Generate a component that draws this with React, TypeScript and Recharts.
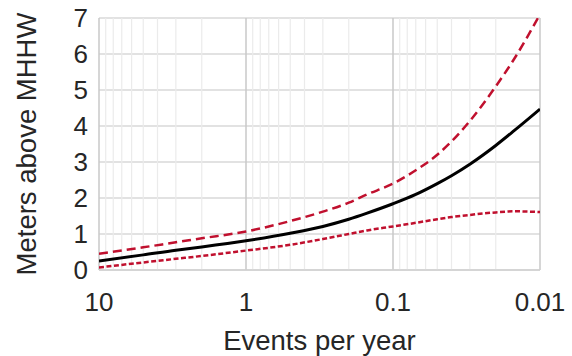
import { LineChart, Line, XAxis, YAxis, CartesianGrid, ReferenceLine } from 'recharts'

// events per year (x, log scale, reversed)
const freqs = [10, 5, 3, 2, 1, 0.5, 0.3, 0.2, 0.15, 0.1, 0.07, 0.05, 0.04, 0.03, 0.02, 0.015, 0.01]
// meters above MHHW
const central = [0.25, 0.42, 0.55, 0.64, 0.81, 1.02, 1.21, 1.41, 1.58, 1.84, 2.1, 2.4, 2.62, 2.94, 3.46, 3.87, 4.47]
const upper = [0.45, 0.63, 0.77, 0.88, 1.07, 1.36, 1.62, 1.87, 2.1, 2.4, 2.77, 3.2, 3.57, 4.14, 5.1, 5.86, 7.1]
const lower = [0.07, 0.21, 0.31, 0.39, 0.54, 0.7, 0.86, 1.0, 1.1, 1.21, 1.31, 1.41, 1.47, 1.53, 1.6, 1.63, 1.61]

const xTicks = [10, 1, 0.1, 0.01]
const yTicks = [0, 1, 2, 3, 4, 5, 6, 7]
const majorX = [10, 1, 0.1, 0.01]
const minorX = [
  9, 8, 7, 6, 5, 4, 3, 2,
  0.9, 0.8, 0.7, 0.6, 0.5, 0.4, 0.3, 0.2,
  0.09, 0.08, 0.07, 0.06, 0.05, 0.04, 0.03, 0.02,
]

const data = freqs.map((f, i) => ({ f, central: central[i], upper: upper[i], lower: lower[i] }))

const FONT = '"Liberation Sans", Arial, sans-serif'
const TEXT = '#262626'
const RED = '#c0102e'

export default function App() {
  return (
    <div style={{ position: 'absolute', left: 0, top: 0, background: '#fff', fontFamily: FONT }}>
      <LineChart width={572} height={356} data={data} margin={{ top: 18, right: 32, left: 0, bottom: 0 }}>
        <CartesianGrid vertical={false} stroke="#d9d9d9" strokeWidth={1.5} />
        {minorX.map((v) => (
          <ReferenceLine key={'m' + v} x={v} stroke="#ebebeb" strokeWidth={1.2} />
        ))}
        {majorX.map((v) => (
          <ReferenceLine key={'M' + v} x={v} stroke="#c8c8c8" strokeWidth={1.5} />
        ))}
        <XAxis
          dataKey="f"
          type="number"
          scale="log"
          domain={[0.01, 10]}
          reversed
          ticks={xTicks}
          allowDataOverflow
          height={86}
          tickLine={false}
          tickSize={0}
          tickMargin={23}
          axisLine={{ stroke: '#d0d0d0', strokeWidth: 1.5 }}
          tick={{ fontSize: 26, fill: TEXT, fontFamily: FONT }}
          label={{ value: 'Events per year', position: 'insideBottom', offset: 6, fontSize: 27.5, fill: TEXT, fontFamily: FONT }}
        />
        <YAxis
          type="number"
          domain={[0, 7]}
          ticks={yTicks}
          allowDataOverflow
          width={99}
          tickLine={false}
          axisLine={false}
          tickSize={0}
          tickMargin={11}
          tick={{ fontSize: 26, fill: TEXT, fontFamily: FONT }}
          label={{
            value: 'Meters above MHHW',
            angle: -90,
            position: 'insideLeft',
            offset: 26,
            fontSize: 27.5,
            fill: TEXT,
            fontFamily: FONT,
            style: { textAnchor: 'middle' },
          }}
        />
        <Line type="monotone" dataKey="upper" stroke={RED} strokeWidth={2.5} strokeDasharray="9 5" dot={false} isAnimationActive={false} />
        <Line type="monotone" dataKey="lower" stroke={RED} strokeWidth={2.5} strokeDasharray="5 2.5" dot={false} isAnimationActive={false} />
        <Line type="monotone" dataKey="central" stroke="#000" strokeWidth={3} dot={false} isAnimationActive={false} />
      </LineChart>
    </div>
  )
}
